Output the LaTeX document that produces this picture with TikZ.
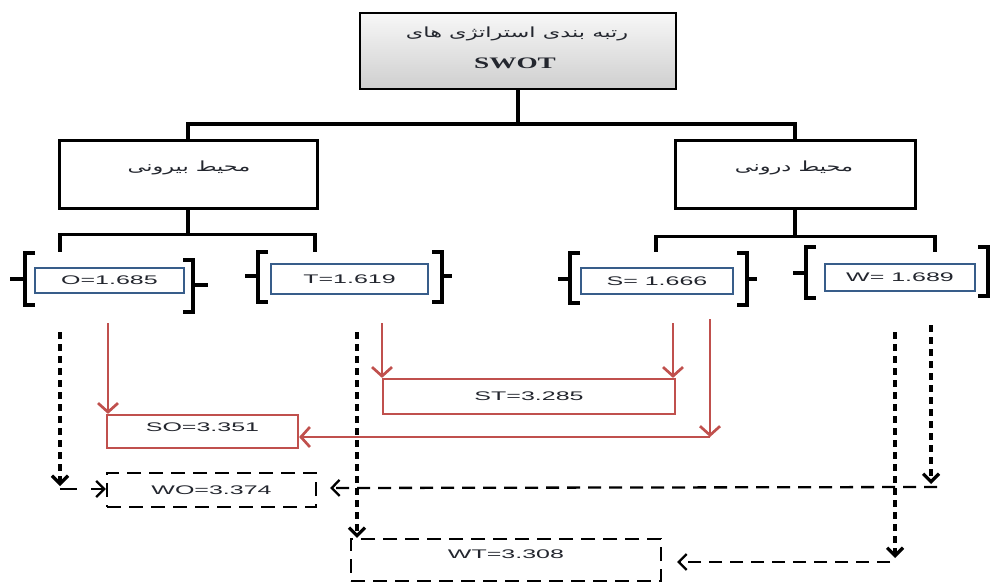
\documentclass[tikz,border=0pt]{standalone}
\usepackage{fontspec}
\usetikzlibrary{arrows.meta,calc}
\setmainfont{Liberation Sans}
\TeXXeTstate=1
\newfontfamily\boxfont[FakeStretch=2.0]{Liberation Sans}
\newfontfamily\swotfont[FakeStretch=1.7]{Liberation Serif}
\newfontfamily\fafont[Script=Arabic,FakeStretch=1.6]{DejaVu Sans}
\definecolor{valblue}{RGB}{56,93,138}
\definecolor{redc}{RGB}{192,80,77}
\definecolor{txt}{RGB}{35,38,46}
\tikzset{
  tree/.style={line width=3.5pt},
  envbox/.style={draw, line width=3pt, rectangle, inner sep=0pt, fill=white},
  valfont/.style={font=\boxfont\fontsize{12.5}{14}\selectfont, text=txt},
  valbox/.style={draw=valblue, line width=2.8pt, fill=white, inner sep=0pt, valfont},
  redbox/.style={draw=redc, line width=2.2pt, fill=white, inner sep=0pt, valfont},
  dashbox/.style={draw=black, line width=2.3pt, dash pattern=on 14pt off 8pt, inner sep=0pt, valfont},
  brk/.style={line width=3.5pt},
  redarr/.style={draw=redc, line width=2.7pt, -{Straight Barb[length=9pt,width=20pt]}},
  blkv/.style={line width=3.2pt, dash pattern=on 7pt off 5pt, -{Straight Barb[length=8pt,width=16pt]}},
  blkh/.style={line width=2.3pt, dash pattern=on 13pt off 8pt, -{Straight Barb[length=8pt,width=16pt]}},
}
\begin{document}
\begin{tikzpicture}[x=1pt,y=-1pt]
\useasboundingbox (0,0) rectangle (995,583);

% top box
\node[draw, line width=2.5pt, top color=gray!6, bottom color=gray!38, minimum width=316pt, minimum height=76pt, inner sep=0pt] (top) at (518,51) {};
\node[font=\fafont\fontsize{14}{16}\selectfont, text=txt] (toptxt) at (517,34) {\beginR رتبه بندی استراتژی های\endR};
\node[font=\swotfont\bfseries\fontsize{16}{18}\selectfont, text=txt] (swot) at (515,63) {SWOT};

% environment boxes
\node[envbox, minimum width=258pt, minimum height=68pt] (ext) at (188,174) {};
\node[font=\fafont\fontsize{14}{16}\selectfont, text=txt] (exttxt) at (189,168) {\beginR محیط بیرونی\endR};
\node[envbox, minimum width=240pt, minimum height=68pt] (int) at (795,174) {};
\node[font=\fafont\fontsize{14}{16}\selectfont, text=txt] (inttxt) at (794,168) {\beginR محیط درونی\endR};

% tree connectors
\draw[tree] (top.south) -- ++(0,34) -| (ext.north);
\draw[tree] (top.south) -- ++(0,34) -| (int.north);
\coordinate (oT) at (60,252);
\coordinate (tT) at (315,252);
\coordinate (sT) at (656,252);
\coordinate (wT) at (935,252);
\draw[tree] (ext.south) -- ++(0,25) -| (oT);
\draw[tree] (ext.south) -- ++(0,25) -| (tT);
\draw[tree] (int.south) -- ++(0,27) -| (sT);
\draw[tree] (int.south) -- ++(0,27) -| (wT);

% value boxes
\node[valbox, minimum width=149pt, minimum height=25pt] (O) at (109.5,280.5) {O=1.685};
\node[valbox, minimum width=157pt, minimum height=30pt] (T) at (349.5,279) {T=1.619};
\node[valbox, minimum width=152pt, minimum height=26pt] (S) at (657,281) {S= 1.666};
\node[valbox, minimum width=150pt, minimum height=27pt] (W) at (900,277.5) {W= 1.689};

% brackets
\draw[brk] (35,253) -- (25,253) -- (25,305) -- (35,305);
\draw[brk] (10,279) -- (25,279);
\draw[brk] (183,260) -- (193,260) -- (193,312) -- (183,312);
\draw[brk] (193,285) -- (208,285);

\draw[brk] (268,252) -- (258,252) -- (258,302) -- (268,302);
\draw[brk] (245,276) -- (258,276);
\draw[brk] (432,252) -- (442,252) -- (442,302) -- (432,302);
\draw[brk] (442,276) -- (452,276);

\draw[brk] (580,253) -- (570,253) -- (570,303) -- (580,303);
\draw[brk] (558,279) -- (570,279);
\draw[brk] (737,253) -- (747,253) -- (747,305) -- (737,305);
\draw[brk] (747,279) -- (757,279);

\draw[brk] (816,247) -- (806,247) -- (806,298) -- (816,298);
\draw[brk] (793,273) -- (806,273);
\draw[brk] (978,247) -- (988,247) -- (988,296) -- (978,296);

% combination boxes
\node[redbox, minimum width=292pt, minimum height=35pt] (ST) at (529,396.5) {ST=3.285};
\node[redbox, minimum width=191pt, minimum height=33pt, text depth=9pt] (SO) at (202.5,431.5) {SO=3.351};
\node[dashbox, minimum width=209pt, minimum height=34pt] (WO) at (211.5,490) {WO=3.374};
\node[dashbox, minimum width=310pt, minimum height=42pt, text depth=12pt] (WT) at (506,560) {WT=3.308};

% red connectors
\coordinate (r1) at (108,323);
\coordinate (r2) at (382,323);
\coordinate (r3) at (673,323);
\coordinate (r4) at (710,319);
\coordinate (r4b) at (710,437);
\draw[redarr] (r1) -- (r1 |- SO.north);
\draw[redarr] (r2) -- (r2 |- ST.north);
\draw[redarr] (r3) -- (r3 |- ST.north);
\draw[redarr] (r4) -- (r4b);
\draw[redarr] (r4b) -- (SO.east |- r4b);

% black dashed connectors
\coordinate (b1) at (60,332);
\coordinate (b1b) at (60,486);
\coordinate (b1c) at (60,489);
\draw[blkv] (b1) -- (b1b);
\draw[blkh, dash pattern=on 17pt off 14pt] (b1c) -- (WO.west |- b1c);

\coordinate (b2) at (357,332);
\draw[blkv] (b2) -- (b2 |- WT.north);

\coordinate (b3) at (931,325);
\coordinate (b3b) at (931,484);
\coordinate (b3c) at (937,487);
\coordinate (woin) at (330,488);
\draw[blkv] (b3) -- (b3b);
\draw[blkh] (b3c) -- (woin);

\coordinate (b4) at (895,332);
\coordinate (b4b) at (895,558);
\coordinate (b4c) at (890,562);
\coordinate (wtin) at (677,562);
\draw[blkv] (b4) -- (b4b);
\draw[blkh] (b4c) -- (wtin);
\end{tikzpicture}
\end{document}
